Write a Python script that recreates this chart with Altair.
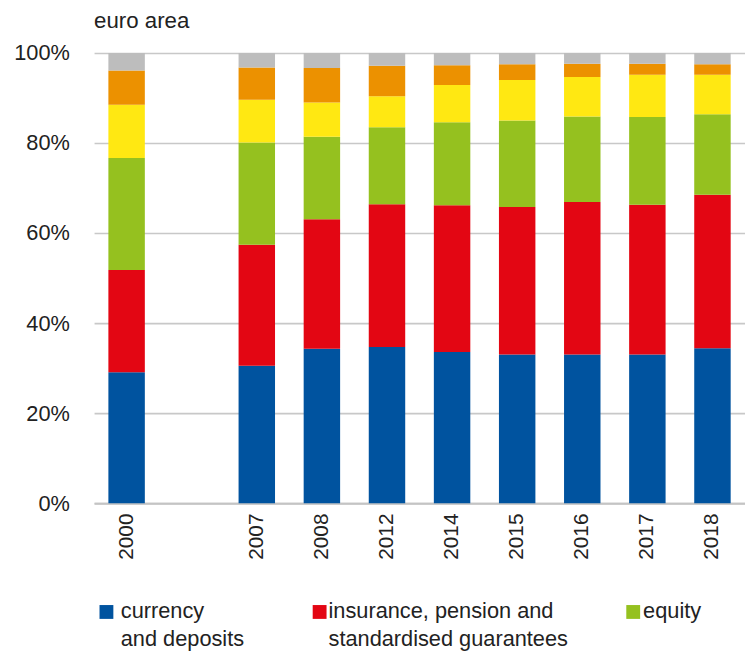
import altair as alt
import pandas as pd

# ---- data ----
slots = ["2000", "", "2007", "2008", "2012", "2014", "2015", "2016", "2017", "2018"]
bar_years = ["2000", "2007", "2008", "2012", "2014", "2015", "2016", "2017", "2018"]
categories = [
    "currency and deposits",
    "insurance, pension and standardised guarantees",
    "equity",
    "investment fund shares",
    "debt securities",
    "other",
]
currency = [29.1, 30.5, 34.3, 34.7, 33.6, 33.0, 33.0, 33.0, 34.4]
insurance = [22.7, 26.9, 28.8, 31.7, 32.6, 32.8, 33.9, 33.3, 34.1]
equity = [24.9, 22.7, 18.3, 17.1, 18.4, 19.2, 19.0, 19.5, 17.9]
funds = [11.8, 9.5, 7.6, 6.9, 8.3, 9.0, 8.8, 9.4, 8.8]
debt = [7.6, 7.2, 7.7, 6.8, 4.4, 3.5, 2.9, 2.4, 2.3]
other = [3.9, 3.2, 3.3, 2.8, 2.7, 2.5, 2.4, 2.4, 2.5]
y_ticks = [0, 0.2, 0.4, 0.6, 0.8, 1.0]
title_text = "euro area"
legend_names = ["currency and deposits",
                "insurance, pension and standardised guarantees",
                "equity"]
legend_texts = ["currency\nand deposits",
                "insurance, pension and\nstandardised guarantees",
                "equity"]

colors = ["#00539f", "#e30613", "#95c11f", "#ffe812", "#ec9100", "#bdbdbd"]
FONT = "Liberation Sans"
TXT = "#222222"

series = [currency, insurance, equity, funds, debt, other]
rows = []
for ci, (cat, vals) in enumerate(zip(categories, series)):
    for yr, v in zip(bar_years, vals):
        rows.append({"year": yr, "category": cat, "value": v / 100.0, "order": ci})
df = pd.DataFrame(rows)

bars = alt.Chart(df).mark_bar().encode(
    x=alt.X(
        "year:N",
        sort=slots,
        scale=alt.Scale(domain=slots, paddingInner=0.44, paddingOuter=0.22),
        axis=alt.Axis(
            title=None, labelAngle=-90, labelFontSize=21, labelFont=FONT,
            labelColor=TXT, labelPadding=10, ticks=False,
            domainColor="#c4c4c4", domainWidth=2, grid=False,
        ),
    ),
    y=alt.Y(
        "value:Q",
        stack="zero",
        scale=alt.Scale(domain=[0, 1], nice=False),
        axis=alt.Axis(
            title=None, format="%", values=y_ticks, labelFontSize=22,
            labelFont=FONT, labelColor=TXT, labelPadding=25, ticks=False,
            domain=False, gridColor="#c8c8c8", gridWidth=1.6,
        ),
    ),
    color=alt.Color("category:N", scale=alt.Scale(domain=categories, range=colors), legend=None),
    order=alt.Order("order:Q", sort="ascending"),
)

title_layer = alt.Chart(pd.DataFrame({"t": [title_text]})).mark_text(
    align="left", baseline="alphabetic", fontSize=22.5, font=FONT, color=TXT
).encode(x=alt.value(0), y=alt.value(-25), text="t:N")

leg_df = pd.DataFrame({"name": legend_names, "label": legend_texts})
sq_x = [12.5, 228, 545]
tx_x = [27, 237, 555]
layers = [bars, title_layer]
for i, nm in enumerate(legend_names):
    c = alt.Chart(leg_df).transform_filter(alt.datum.name == nm)
    layers.append(
        c.mark_square(size=196, opacity=1).encode(
            x=alt.value(sq_x[i]), y=alt.value(565),
            color=alt.value(colors[i]),
        )
    )
    layers.append(
        c.mark_text(align="left", baseline="alphabetic", fontSize=22, font=FONT,
                    color=TXT, lineBreak="\n", lineHeight=28).encode(
            x=alt.value(tx_x[i]), y=alt.value(571), text="label:N"
        )
    )

chart = alt.layer(*layers).properties(
    width=658, height=455,
    autosize=alt.AutoSizeParams(type="none"),
    padding={"left": 87, "top": 42, "right": 0, "bottom": 152},
).configure_view(stroke=None)

chart.save("out.html", embed_options={"renderer": "svg", "actions": False})
